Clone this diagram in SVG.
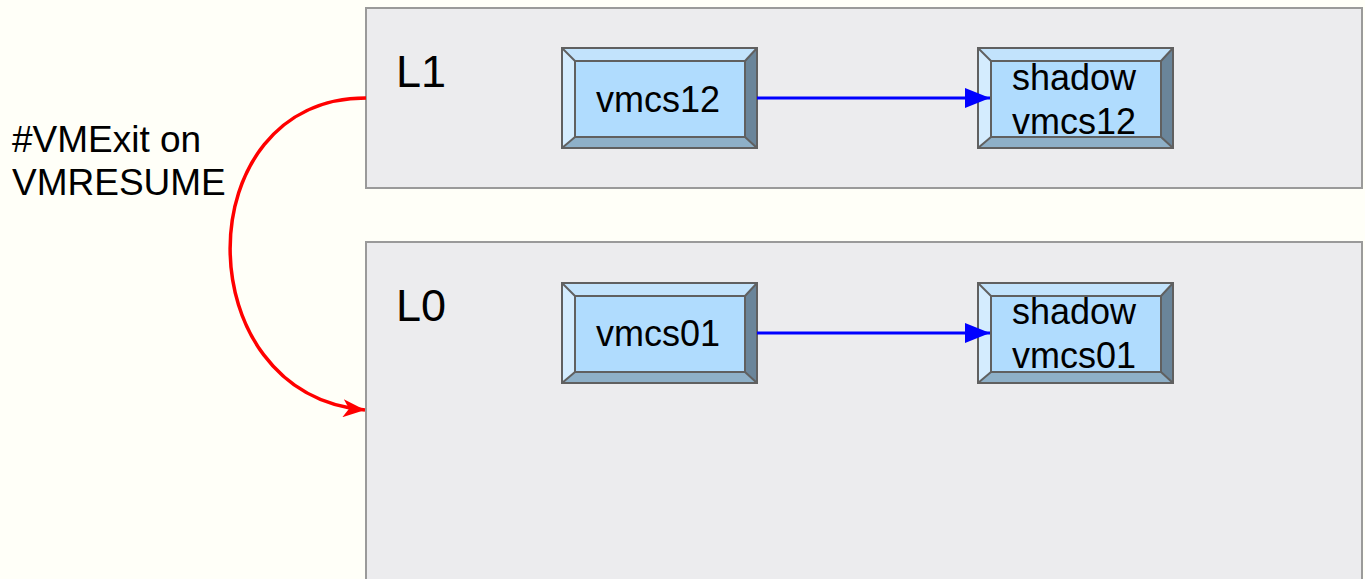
<svg xmlns="http://www.w3.org/2000/svg" xmlns:xlink="http://www.w3.org/1999/xlink" width="1365" height="579" viewBox="0 0 1365 579">
<style>
.region{fill:#ececee;stroke:#9a9a9a;stroke-width:2}
.lbl{font-family:"Liberation Sans",Arial,sans-serif;fill:#000}
.big{font-size:45px}
.txt{font-size:37px}
.ntxt{font-size:36px;text-anchor:middle}
.bt{fill:#c2e3fc}
.bl{fill:#d4ecfe}
.br{fill:#6a859a}
.bb{fill:#8eb0c8}
.bc{fill:#b0dcfe}
.edge{fill:none;stroke:#606060;stroke-width:2}
.blue{stroke:#0000ff;stroke-width:3;fill:none}
.red{stroke:#ff0000;stroke-width:3.5;fill:none}
</style>
<defs>
<marker id="ab" markerUnits="userSpaceOnUse" markerWidth="26" markerHeight="20" refX="25" refY="10" orient="auto">
<path d="M0,0 L25,10 L0,20 Z" fill="#0000ff"/>
</marker>
<marker id="ar" markerUnits="userSpaceOnUse" markerWidth="24" markerHeight="18" refX="22" refY="9" orient="auto">
<path d="M0,0 L22,9 L0,18 L6,9 Z" fill="#ff0000"/>
</marker>
<g id="bevel">
<polygon class="bc" points="13,13 183,13 183,89 13,89"/>
<polygon class="bt" points="0,0 195,0 183,13 13,13"/>
<polygon class="bl" points="0,0 13,13 13,89 0,100"/>
<polygon class="br" points="195,0 195,100 183,89 183,13"/>
<polygon class="bb" points="0,100 13,89 183,89 195,100"/>
<polygon class="edge" points="13,13 183,13 183,89 13,89"/>
<line class="edge" x1="0" y1="0" x2="13" y2="13"/>
<line class="edge" x1="195" y1="0" x2="183" y2="13"/>
<line class="edge" x1="195" y1="100" x2="183" y2="89"/>
<line class="edge" x1="0" y1="100" x2="13" y2="89"/>
<rect class="edge" x="0" y="0" width="195" height="100"/>
</g>
</defs>
<rect x="0" y="0" width="1365" height="579" fill="#fffff8"/>
<g id="region-L1">
<rect class="region" x="366" y="8" width="996" height="180"/>
<text class="lbl big" x="396" y="87">L1</text>
</g>
<g id="region-L0">
<rect class="region" x="366" y="242" width="996" height="360"/>
<text class="lbl big" x="396" y="321">L0</text>
</g>
<g id="vmcs12">
<use xlink:href="#bevel" x="562" y="48"/>
<text class="lbl ntxt" x="658" y="112">vmcs12</text>
</g>
<g id="shadow-vmcs12">
<use xlink:href="#bevel" x="978" y="48"/>
<text class="lbl ntxt" x="1074" y="90">shadow</text>
<text class="lbl ntxt" x="1074" y="134">vmcs12</text>
</g>
<g id="vmcs01">
<use xlink:href="#bevel" x="562" y="283"/>
<text class="lbl ntxt" x="658" y="346">vmcs01</text>
</g>
<g id="shadow-vmcs01">
<use xlink:href="#bevel" x="978" y="283"/>
<text class="lbl ntxt" x="1074" y="324">shadow</text>
<text class="lbl ntxt" x="1074" y="368">vmcs01</text>
</g>
<g id="exit-label">
<text class="lbl txt" x="12" y="152">#VMExit on</text>
<text class="lbl txt" x="12" y="195">VMRESUME</text>
</g>
<g id="connectors">
<line class="blue" x1="757" y1="98" x2="990" y2="98" marker-end="url(#ab)"/>
<line class="blue" x1="757" y1="333" x2="990" y2="333" marker-end="url(#ab)"/>
<path class="red" d="M366,98 C185,98 185,395 365,410" marker-end="url(#ar)"/>
</g>
</svg>
